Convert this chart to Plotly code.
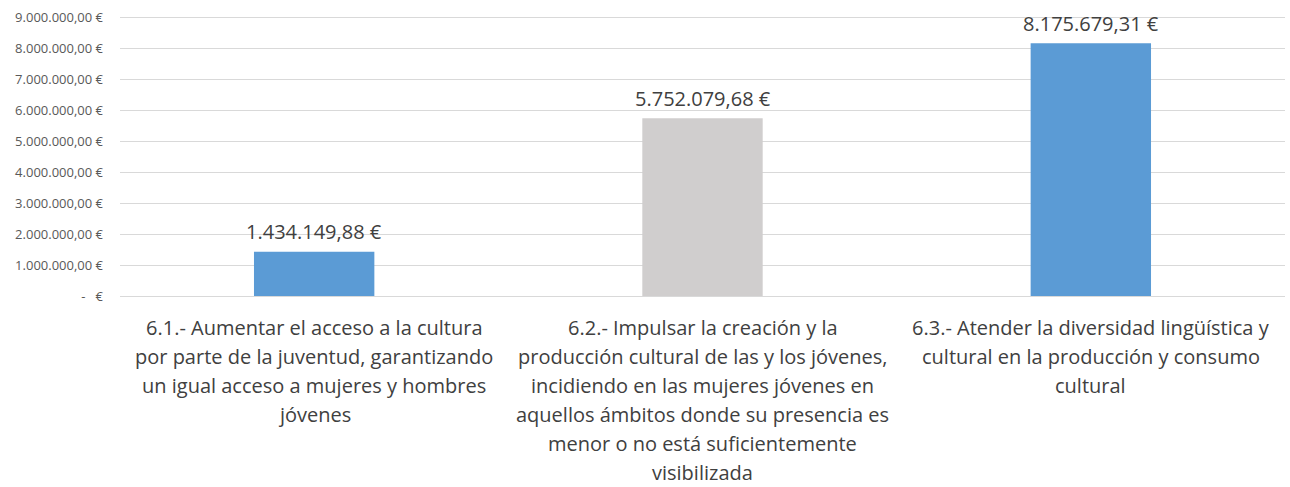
import plotly.graph_objects as go

# Objetivos del eje 6 y su presupuesto asignado
categorias = ["6.1", "6.2", "6.3"]
etiquetas = [
    ["6.1.- Aumentar el acceso a la cultura",
     "por parte de la juventud, garantizando",
     "un igual acceso a mujeres y hombres",
     "jóvenes"],
    ["6.2.- Impulsar la creación y la",
     "producción cultural de las y los jóvenes,",
     "incidiendo en las mujeres jóvenes en",
     "aquellos ámbitos donde su presencia es",
     "menor o no está suficientemente",
     "visibilizada"],
    ["6.3.- Atender la diversidad lingüística y",
     "cultural en la producción y consumo",
     "cultural"],
]
importes = [1434149.88, 5752079.68, 8175679.31]
colores = ["#5B9BD5", "#D0CECE", "#5B9BD5"]

tick_vals = [0, 1e6, 2e6, 3e6, 4e6, 5e6, 6e6, 7e6, 8e6, 9e6]
tick_text = ["-   €", "1.000.000,00 €", "2.000.000,00 €", "3.000.000,00 €",
             "4.000.000,00 €", "5.000.000,00 €", "6.000.000,00 €",
             "7.000.000,00 €", "8.000.000,00 €", "9.000.000,00 €"]


def euros(v):
    s = f"{v:,.2f}"
    return s.replace(",", "X").replace(".", ",").replace("X", ".") + " €"


FONT = "Open Sans, Liberation Sans, Arial, sans-serif"

fig = go.Figure(go.Bar(
    x=categorias, y=importes, marker_color=colores, width=0.31,
    marker_line_width=0, hoverinfo="skip",
))

annotations = []
for i, v in enumerate(importes):
    annotations.append(dict(
        x=i, y=v, xref="x", yref="y", text=euros(v), showarrow=False,
        yanchor="middle", yshift=20,
        font=dict(family=FONT, size=20, color="#404040"),
    ))
for i, lineas in enumerate(etiquetas):
    for j, linea in enumerate(lineas):
        annotations.append(dict(
            x=i, y=0, xref="x", yref="paper", text=linea, showarrow=False,
            yanchor="middle", yshift=-31 - 29 * j,
            font=dict(family=FONT, size=20, color="#404040"),
        ))

fig.update_layout(
    width=1290, height=487,
    margin=dict(l=120, r=5, t=16, b=191),
    paper_bgcolor="white", plot_bgcolor="white",
    showlegend=False,
    annotations=annotations,
    xaxis=dict(type="category", range=[-0.5, 2.5], showticklabels=False,
               showgrid=False, zeroline=False, showline=False, ticks=""),
    yaxis=dict(range=[0, 9.06e6], tickvals=tick_vals, ticktext=tick_text,
               showgrid=True, gridcolor="#D9D9D9", gridwidth=1,
               zeroline=True, zerolinecolor="#D9D9D9", zerolinewidth=1,
               showline=False, ticks="", ticklabelstandoff=16,
               tickfont=dict(family=FONT, size=13, color="#595959")),
)

fig.write_html("out.html")
